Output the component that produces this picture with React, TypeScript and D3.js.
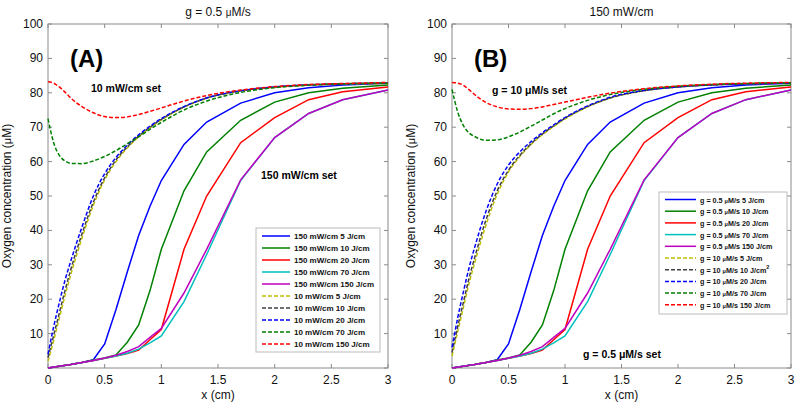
import React from 'react';
import * as d3 from 'd3';

// x grids (cm)
const xSolid = [0, 0.1, 0.2, 0.3, 0.4, 0.5, 0.6, 0.7, 0.8, 0.9, 1.0, 1.2, 1.4, 1.7, 2.0, 2.3, 2.6, 3.0];
const xDash = [0, 0.05, 0.1, 0.15, 0.2, 0.3, 0.4, 0.5, 0.6, 0.7, 0.8, 0.9, 1.0, 1.2, 1.4, 1.7, 2.0, 2.3, 2.6, 3.0];

// solid set (150 mW/cm, g = 0.5 uM/s) - same in both panels
const solid5 = [0, 0.5, 1.0, 1.6, 2.4, 7, 17, 28, 38.5, 47, 54.5, 65, 71.5, 77, 80, 81.5, 82.3, 82.8];
const solid10 = [0, 0.5, 1.0, 1.6, 2.3, 2.9, 3.8, 7.5, 12.5, 22.5, 34.5, 51.5, 62.8, 72, 77.3, 80, 81.3, 82.3];
const solid20 = [0, 0.5, 1.0, 1.6, 2.2, 2.8, 3.5, 4.2, 5.2, 8.2, 11.2, 34.5, 50, 65.5, 72.8, 78, 80.3, 81.7];
const solid70 = [0, 0.5, 1.0, 1.6, 2.2, 2.8, 3.5, 4.3, 5.5, 7.3, 9.3, 19.3, 33, 54.5, 67, 74, 78, 80.8];
const solid150 = [0, 0.5, 1.0, 1.6, 2.2, 2.9, 3.7, 4.8, 6.2, 8.9, 11.5, 21.8, 34.5, 54.7, 67, 74, 78, 80.8];

// panel A dashed (10 mW/cm set)
const dashA5 = [2, 8, 14.5, 21, 27, 37.8, 47.3, 54.7, 60, 64, 67.2, 69.8, 72.1, 75.8, 78.4, 80.5, 81.6, 82.2, 82.5, 82.7];
const dashA10 = [3, 9.5, 16, 22.5, 28.5, 39, 48.2, 55.3, 60.5, 64.3, 67.4, 70, 72.3, 75.9, 78.5, 80.6, 81.7, 82.3, 82.6, 82.8];
const dashA20 = [4, 12, 19, 25.5, 31, 41, 50, 56.5, 61.2, 64.8, 67.8, 70.3, 72.5, 76, 78.5, 80.6, 81.7, 82.3, 82.6, 82.8];
const dashA70 = [72.5, 65.5, 61.8, 60.2, 59.5, 59.4, 60.2, 61.5, 63.2, 65.2, 67.2, 69.4, 71.4, 75, 77.6, 80.1, 81.5, 82.2, 82.6, 82.8];
const dashA150 = [83.2, 82.8, 81.7, 80.2, 78.5, 76, 74.2, 73.1, 72.8, 73, 73.7, 74.6, 75.6, 77.6, 79.2, 80.8, 81.8, 82.4, 82.7, 83];

// panel B dashed (g = 10 uM/s set)
const dashB5 = [3.5, 10.5, 17.5, 24.5, 30.5, 41.5, 50.5, 57, 61.5, 65, 67.8, 70.2, 72.4, 75.9, 78.5, 80.6, 81.7, 82.3, 82.6, 82.8];
const dashB10 = [4.5, 12, 19, 26, 32, 43, 51.5, 57.5, 61.8, 65.2, 68, 70.4, 72.6, 76, 78.5, 80.6, 81.7, 82.3, 82.6, 82.8];
const dashB20 = [6, 14.5, 22, 29, 35, 45.5, 53.5, 59, 62.8, 65.8, 68.4, 70.7, 72.8, 76.2, 78.7, 80.7, 81.7, 82.3, 82.6, 82.8];
const dashB70 = [81, 74.5, 70.5, 68.4, 67.3, 66.2, 66.3, 67.2, 68.6, 70.3, 72.1, 73.9, 75.4, 77.8, 79.5, 81, 81.9, 82.4, 82.7, 82.9];
const dashB150 = [83, 82.8, 82.2, 80.9, 79.5, 77.2, 75.9, 75.3, 75.2, 75.4, 75.9, 76.6, 77.3, 78.7, 79.9, 81.2, 82, 82.5, 82.8, 83];

const xTicks = [0, 0.5, 1, 1.5, 2, 2.5, 3];
const yTicks = [0, 10, 20, 30, 40, 50, 60, 70, 80, 90, 100];

const solidColors = ['#0000ff', '#008000', '#ff0000', '#00bfbf', '#bf00bf'];
const dashColors = ['#bfbf00', '#404040', '#0000ff', '#008000', '#ff0000'];
const doses = ['5 J/cm', '10 J/cm', '20 J/cm', '70 J/cm', '150 J/cm'];

const FONT = 'Liberation Sans, Arial, sans-serif';
const TOP = 24;
const BOTTOM = 368;

const Mu = ({ size }) => <tspan fontSize={size}>μ</tspan>;

function Panel({ left, right, title, letter, dashed, legend, notes }) {
  const x = d3.scaleLinear().domain([0, 3]).range([left, right]);
  const y = d3.scaleLinear().domain([0, 100]).range([BOTTOM, TOP]);
  const lineLin = d3.line<number>().x((d, i) => x(xSolid[i])).y(d => y(d));
  const lineSmooth = d3.line<number>().x((d, i) => x(xDash[i])).y(d => y(d)).curve(d3.curveMonotoneX);
  const solids = [solid5, solid10, solid20, solid70, solid150];
  const axisColor = '#8a8a8a';
  const mid = (left + right) / 2;

  return (
    <g fontFamily={FONT}>
      <text x={mid} y={16} fontSize={12} textAnchor="middle" fill="#111">{title}</text>
      <text transform={`translate(${left - 37},${(TOP + BOTTOM) / 2}) rotate(-90)`} fontSize={12} textAnchor="middle" fill="#111">
        Oxygen concentration (<Mu size={11} />M)
      </text>
      {/* box */}
      <rect x={left} y={TOP} width={right - left} height={BOTTOM - TOP} fill="white" stroke={axisColor} strokeWidth={1} />
      {xTicks.map(t => (
        <g key={'x' + t}>
          <line x1={x(t)} x2={x(t)} y1={BOTTOM} y2={BOTTOM - 4} stroke={axisColor} />
          <line x1={x(t)} x2={x(t)} y1={TOP} y2={TOP + 4} stroke={axisColor} />
          <text x={x(t)} y={384} fontSize={12} textAnchor="middle" fill="#111">{t}</text>
        </g>
      ))}
      {yTicks.map(t => (
        <g key={'y' + t}>
          <line x1={left} x2={left + 4} y1={y(t)} y2={y(t)} stroke={axisColor} />
          <line x1={right} x2={right - 4} y1={y(t)} y2={y(t)} stroke={axisColor} />
          {t > 0 && <text x={left - 5} y={y(t) + 4} fontSize={12} textAnchor="end" fill="#111">{t}</text>}
        </g>
      ))}
      <text x={mid} y={399} fontSize={12} textAnchor="middle" fill="#111">x (cm)</text>

      {solids.map((s, i) => (
        <path key={'s' + i} d={lineLin(s) || ''} fill="none" stroke={solidColors[i]} strokeWidth={1.5} />
      ))}
      {dashed.map((s, i) => (
        <path key={'d' + i} d={lineSmooth(s) || ''} fill="none" stroke={dashColors[i]} strokeWidth={1.5} strokeDasharray="4,2" />
      ))}

      <text x={left + 22} y={67} fontSize={24} fontWeight="bold" fill="#000">{letter}</text>
      {notes}

      {/* legend */}
      <rect x={legend.x0} y={legend.y0} width={legend.x1 - legend.x0} height={legend.y1 - legend.y0} fill="white" stroke="#bbb" strokeWidth={1} />
      {legend.labels.map((lab, i) => {
        const ry = legend.r0 + i * legend.dy;
        const isDash = i >= 5;
        return (
          <g key={'l' + i}>
            <line x1={legend.lx0} x2={legend.lx1} y1={ry} y2={ry}
              stroke={isDash ? dashColors[i - 5] : solidColors[i]} strokeWidth={1.5}
              strokeDasharray={isDash ? '4,2' : undefined} />
            <text x={legend.lx1 + 4} y={ry + 3} fontSize={legend.fs} fontWeight="bold" fill="#111">{lab}</text>
          </g>
        );
      })}
    </g>
  );
}

export default function App() {
  const legendA = {
    x0: 256, x1: 380, y0: 228, y1: 352, r0: 236, dy: 12, lx0: 262, lx1: 290, fs: 8,
    labels: [
      ...doses.map(d => <>150 mW/cm {d}</>),
      ...doses.map(d => <>10 mW/cm {d}</>),
    ],
  };
  const gLab = (g, d, sup = false) => (
    <>g = {g} <Mu size={5.5} />M/s {d}{sup && <tspan fontSize={5.5} dy={-3.5}>2</tspan>}</>
  );
  const legendB = {
    x0: 659, x1: 787, y0: 192, y1: 314, r0: 199.5, dy: 11.7, lx0: 665, lx1: 696, fs: 7.2,
    labels: [
      ...doses.map(d => gLab('0.5', d)),
      gLab('10', doses[0]), gLab('10', doses[1], true), gLab('10', doses[2]), gLab('10', doses[3]), gLab('10', doses[4]),
    ],
  };

  return (
    <svg width={800} height={403} style={{ position: 'absolute', left: 0, top: 0, background: 'white' }}>
      <Panel left={48} right={388} letter="(A)"
        title={<>g = 0.5 <Mu size={10} />M/s</>}
        dashed={[dashA5, dashA10, dashA20, dashA70, dashA150]}
        legend={legendA}
        notes={<>
          <text x={91} y={92} fontSize={10.5} fontWeight="bold" fill="#000">10 mW/cm set</text>
          <text x={261} y={179} fontSize={10.5} fontWeight="bold" fill="#000">150 mW/cm set</text>
        </>}
      />
      <Panel left={452} right={791} letter="(B)"
        title={<>150 mW/cm</>}
        dashed={[dashB5, dashB10, dashB20, dashB70, dashB150]}
        legend={legendB}
        notes={<>
          <text x={492} y={94} fontSize={10.5} fontWeight="bold" fill="#000">g = 10 <Mu size={10.5} />M/s set</text>
          <text x={583} y={358} fontSize={10.5} fontWeight="bold" fill="#000">g = 0.5 <Mu size={10.5} />M/s set</text>
        </>}
      />
    </svg>
  );
}
